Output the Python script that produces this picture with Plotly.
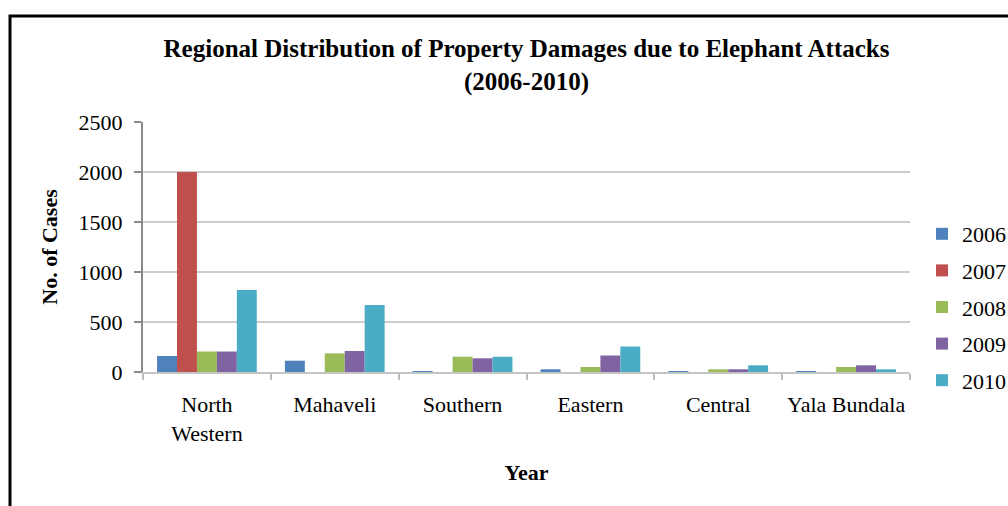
import plotly.graph_objects as go

regions = ["North<br>Western", "Mahaveli", "Southern", "Eastern", "Central", "Yala Bundala"]
years = ["2006", "2007", "2008", "2009", "2010"]

cases_2006 = [160, 113, 10, 27, 5, 5]
cases_2007 = [2000, 0, 0, 0, 0, 0]
cases_2008 = [205, 187, 153, 50, 27, 50]
cases_2009 = [205, 210, 137, 165, 27, 67]
cases_2010 = [820, 670, 153, 255, 67, 27]

series = [cases_2006, cases_2007, cases_2008, cases_2009, cases_2010]
colors = ["#4F81BD", "#C0504D", "#9BBB59", "#8064A2", "#4BACC6"]

FONT = "Liberation Serif, Times New Roman, serif"

W, H = 1008, 506
PL, PR, PT, PB = 143, 910, 122, 372

fig = go.Figure()
for year, vals, col in zip(years, series, colors):
    fig.add_trace(go.Bar(x=regions, y=vals, name=year, marker_color=col,
                         marker_line_width=0, legendgroup=year))

pw = PR - PL
ph = PB - PT

fig.update_layout(
    width=W, height=H,
    barmode="group", bargap=0.22, bargroupgap=0,
    plot_bgcolor="white", paper_bgcolor="white",
    margin=dict(l=PL, r=W - PR, t=PT, b=H - PB, autoexpand=False),
    font=dict(family=FONT, size=22, color="#000000"),
    title=dict(
        text="<b>Regional Distribution of Property Damages due to Elephant Attacks<br>(2006-2010)</b>",
        x=0.5, xref="paper", y=(H - 57) / H, yref="container", yanchor="middle",
        font=dict(family=FONT, size=25, color="#000000"),
    ),
    legend=dict(
        x=(922 - PL) / pw, xanchor="left", y=(PB - 213) / ph, yanchor="top",
        font=dict(family=FONT, size=22, color="#000000"), tracegroupgap=5,
        bgcolor="rgba(0,0,0,0)", itemwidth=30,
    ),
    showlegend=True,
)

fig.update_xaxes(
    title=dict(text="<b>Year</b>", standoff=20, font=dict(family=FONT, size=22)),
    tickfont=dict(family=FONT, size=22, color="#000000"), tickangle=0, automargin=False,
    tickson="boundaries", ticks="outside", ticklen=6, tickcolor="#bdbdbd", tickwidth=2,
    ticklabelstandoff=12,
    showline=True, linecolor="#c4c4c4", linewidth=2, showgrid=False,
)
fig.update_yaxes(
    title=dict(text="<b>No. of Cases</b>", standoff=15, font=dict(family=FONT, size=22)),
    tickfont=dict(family=FONT, size=22, color="#000000"), automargin=False,
    range=[0, 2500], dtick=500, tick0=0,
    ticks="outside", ticklen=7, tickcolor="#8a8a8a", tickwidth=2, ticklabelstandoff=7,
    showline=True, linecolor="#8a8a8a", linewidth=2,
    showgrid=True, gridcolor="#cccccc", gridwidth=2, zeroline=False,
)

# darker line at 1000
fig.add_shape(type="line", xref="paper", x0=0, x1=1, yref="y", y0=1000, y1=1000,
              line=dict(color="#858585", width=2), layer="below")

# outer frame of the original chart box
fig.add_shape(type="rect", xref="paper", yref="paper",
              x0=(10 - PL) / pw, x1=1.3, y0=-0.8, y1=(PB - 16) / ph,
              line=dict(color="#000000", width=3), fillcolor="rgba(0,0,0,0)", layer="below")

# drop the default page margin so the figure sits at the window's top-left corner
fig.write_html("out.html", config={"displayModeBar": False},
               post_script="document.body.style.margin='0';document.body.style.overflow='hidden';")
